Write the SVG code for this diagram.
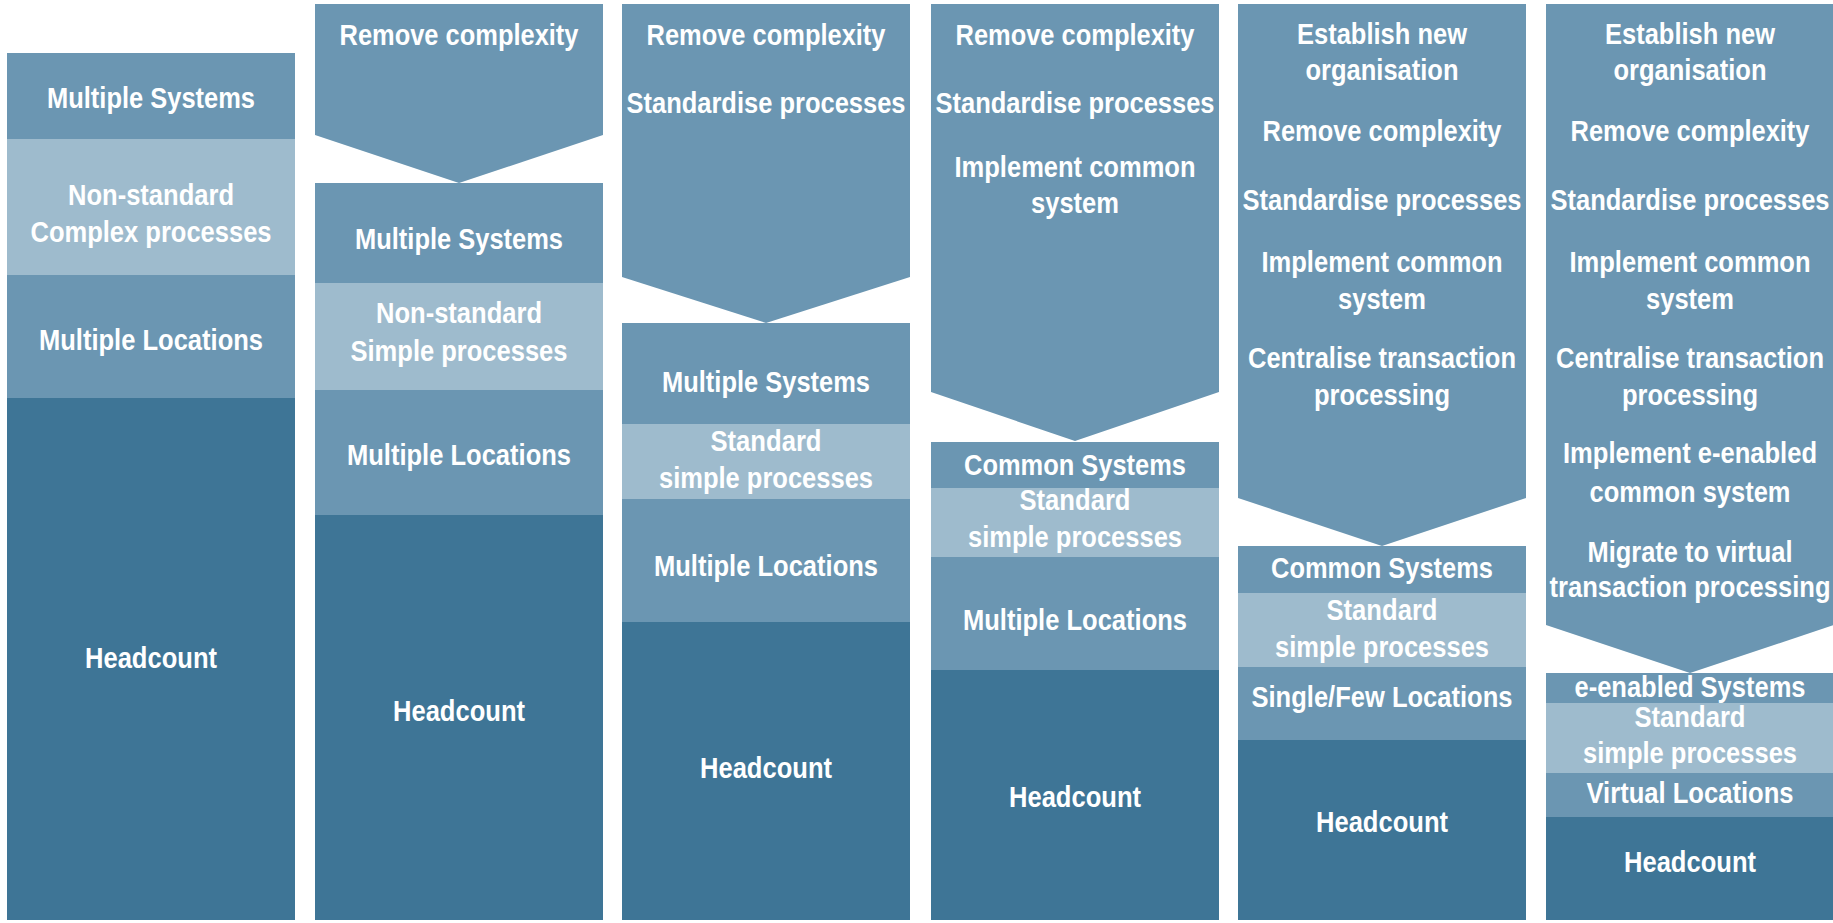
<svg xmlns="http://www.w3.org/2000/svg" width="1833" height="923" viewBox="0 0 1833 923">
<style>
.m{fill:#6b96b2}
.l{fill:#9ebbcd}
.d{fill:#3e7596}
.a{fill:#6b96b2}
text{font-family:"Liberation Sans",Arial,sans-serif;font-weight:bold;font-size:29px;fill:#ffffff;text-anchor:middle}
</style>
<rect x="0" y="0" width="1833" height="923" fill="#ffffff"/>

<!-- Column 1 -->
<g id="col1">
<g id="c1-systems"><rect class="m" x="7" y="53" width="288" height="86"/><text x="151" y="108" textLength="208" lengthAdjust="spacingAndGlyphs">Multiple Systems</text></g>
<g id="c1-processes"><rect class="l" x="7" y="139" width="288" height="136"/><text x="151" y="205" textLength="166" lengthAdjust="spacingAndGlyphs">Non-standard</text><text x="151" y="242" textLength="241" lengthAdjust="spacingAndGlyphs">Complex processes</text></g>
<g id="c1-locations"><rect class="m" x="7" y="275" width="288" height="123"/><text x="151" y="350" textLength="224" lengthAdjust="spacingAndGlyphs">Multiple Locations</text></g>
<g id="c1-headcount"><rect class="d" x="7" y="398" width="288" height="522"/><text x="151" y="668" textLength="132" lengthAdjust="spacingAndGlyphs">Headcount</text></g>
</g>

<!-- Column 2 -->
<g id="col2">
<g id="c2-arrow"><polygon class="a" points="315,4 603,4 603,135 459,183 315,135"/><text x="459" y="45" textLength="239" lengthAdjust="spacingAndGlyphs">Remove complexity</text></g>
<g id="c2-systems"><rect class="m" x="315" y="183" width="288" height="100"/><text x="459" y="249" textLength="208" lengthAdjust="spacingAndGlyphs">Multiple Systems</text></g>
<g id="c2-processes"><rect class="l" x="315" y="283" width="288" height="107"/><text x="459" y="323" textLength="166" lengthAdjust="spacingAndGlyphs">Non-standard</text><text x="459" y="361" textLength="217" lengthAdjust="spacingAndGlyphs">Simple processes</text></g>
<g id="c2-locations"><rect class="m" x="315" y="390" width="288" height="125"/><text x="459" y="465" textLength="224" lengthAdjust="spacingAndGlyphs">Multiple Locations</text></g>
<g id="c2-headcount"><rect class="d" x="315" y="515" width="288" height="405"/><text x="459" y="721" textLength="132" lengthAdjust="spacingAndGlyphs">Headcount</text></g>
</g>

<!-- Column 3 -->
<g id="col3">
<g id="c3-arrow"><polygon class="a" points="622,4 910,4 910,277 766,323 622,277"/><text x="766" y="45" textLength="239" lengthAdjust="spacingAndGlyphs">Remove complexity</text><text x="766" y="113" textLength="279" lengthAdjust="spacingAndGlyphs">Standardise processes</text></g>
<g id="c3-systems"><rect class="m" x="622" y="323" width="288" height="101"/><text x="766" y="392" textLength="208" lengthAdjust="spacingAndGlyphs">Multiple Systems</text></g>
<g id="c3-processes"><rect class="l" x="622" y="424" width="288" height="75"/><text x="766" y="451" textLength="111" lengthAdjust="spacingAndGlyphs">Standard</text><text x="766" y="488" textLength="214" lengthAdjust="spacingAndGlyphs">simple processes</text></g>
<g id="c3-locations"><rect class="m" x="622" y="499" width="288" height="123"/><text x="766" y="576" textLength="224" lengthAdjust="spacingAndGlyphs">Multiple Locations</text></g>
<g id="c3-headcount"><rect class="d" x="622" y="622" width="288" height="298"/><text x="766" y="778" textLength="132" lengthAdjust="spacingAndGlyphs">Headcount</text></g>
</g>

<!-- Column 4 -->
<g id="col4">
<g id="c4-arrow"><polygon class="a" points="931,4 1219,4 1219,392 1075,441 931,392"/><text x="1075" y="45" textLength="239" lengthAdjust="spacingAndGlyphs">Remove complexity</text><text x="1075" y="113" textLength="279" lengthAdjust="spacingAndGlyphs">Standardise processes</text><text x="1075" y="177" textLength="241" lengthAdjust="spacingAndGlyphs">Implement common</text><text x="1075" y="213" textLength="88" lengthAdjust="spacingAndGlyphs">system</text></g>
<g id="c4-systems"><rect class="m" x="931" y="442" width="288" height="46"/><text x="1075" y="475" textLength="222" lengthAdjust="spacingAndGlyphs">Common Systems</text></g>
<g id="c4-processes"><rect class="l" x="931" y="488" width="288" height="69"/><text x="1075" y="510" textLength="111" lengthAdjust="spacingAndGlyphs">Standard</text><text x="1075" y="547" textLength="214" lengthAdjust="spacingAndGlyphs">simple processes</text></g>
<g id="c4-locations"><rect class="m" x="931" y="557" width="288" height="113"/><text x="1075" y="630" textLength="224" lengthAdjust="spacingAndGlyphs">Multiple Locations</text></g>
<g id="c4-headcount"><rect class="d" x="931" y="670" width="288" height="250"/><text x="1075" y="807" textLength="132" lengthAdjust="spacingAndGlyphs">Headcount</text></g>
</g>

<!-- Column 5 -->
<g id="col5">
<g id="c5-arrow"><polygon class="a" points="1238,4 1526,4 1526,498 1382,546 1238,498"/><text x="1382" y="44" textLength="170" lengthAdjust="spacingAndGlyphs">Establish new</text><text x="1382" y="80" textLength="153" lengthAdjust="spacingAndGlyphs">organisation</text><text x="1382" y="141" textLength="239" lengthAdjust="spacingAndGlyphs">Remove complexity</text><text x="1382" y="210" textLength="279" lengthAdjust="spacingAndGlyphs">Standardise processes</text><text x="1382" y="272" textLength="241" lengthAdjust="spacingAndGlyphs">Implement common</text><text x="1382" y="309" textLength="88" lengthAdjust="spacingAndGlyphs">system</text><text x="1382" y="368" textLength="268" lengthAdjust="spacingAndGlyphs">Centralise transaction</text><text x="1382" y="405" textLength="136" lengthAdjust="spacingAndGlyphs">processing</text></g>
<g id="c5-systems"><rect class="m" x="1238" y="546" width="288" height="47"/><text x="1382" y="578" textLength="222" lengthAdjust="spacingAndGlyphs">Common Systems</text></g>
<g id="c5-processes"><rect class="l" x="1238" y="593" width="288" height="74"/><text x="1382" y="620" textLength="111" lengthAdjust="spacingAndGlyphs">Standard</text><text x="1382" y="657" textLength="214" lengthAdjust="spacingAndGlyphs">simple processes</text></g>
<g id="c5-locations"><rect class="m" x="1238" y="667" width="288" height="73"/><text x="1382" y="707" textLength="261" lengthAdjust="spacingAndGlyphs">Single/Few Locations</text></g>
<g id="c5-headcount"><rect class="d" x="1238" y="740" width="288" height="180"/><text x="1382" y="832" textLength="132" lengthAdjust="spacingAndGlyphs">Headcount</text></g>
</g>

<!-- Column 6 -->
<g id="col6">
<g id="c6-arrow"><polygon class="a" points="1546,4 1834,4 1834,625 1690,673 1546,625"/><text x="1690" y="44" textLength="170" lengthAdjust="spacingAndGlyphs">Establish new</text><text x="1690" y="80" textLength="153" lengthAdjust="spacingAndGlyphs">organisation</text><text x="1690" y="141" textLength="239" lengthAdjust="spacingAndGlyphs">Remove complexity</text><text x="1690" y="210" textLength="279" lengthAdjust="spacingAndGlyphs">Standardise processes</text><text x="1690" y="272" textLength="241" lengthAdjust="spacingAndGlyphs">Implement common</text><text x="1690" y="309" textLength="88" lengthAdjust="spacingAndGlyphs">system</text><text x="1690" y="368" textLength="268" lengthAdjust="spacingAndGlyphs">Centralise transaction</text><text x="1690" y="405" textLength="136" lengthAdjust="spacingAndGlyphs">processing</text><text x="1690" y="463" textLength="254" lengthAdjust="spacingAndGlyphs">Implement e-enabled</text><text x="1690" y="502" textLength="201" lengthAdjust="spacingAndGlyphs">common system</text><text x="1690" y="562" textLength="205" lengthAdjust="spacingAndGlyphs">Migrate to virtual</text><text x="1690" y="597" textLength="281" lengthAdjust="spacingAndGlyphs">transaction processing</text></g>
<g id="c6-systems"><rect class="m" x="1546" y="673" width="288" height="30"/><text x="1690" y="697" textLength="231" lengthAdjust="spacingAndGlyphs">e-enabled Systems</text></g>
<g id="c6-processes"><rect class="l" x="1546" y="703" width="288" height="70"/><text x="1690" y="727" textLength="111" lengthAdjust="spacingAndGlyphs">Standard</text><text x="1690" y="763" textLength="214" lengthAdjust="spacingAndGlyphs">simple processes</text></g>
<g id="c6-locations"><rect class="m" x="1546" y="773" width="288" height="44"/><text x="1690" y="803" textLength="207" lengthAdjust="spacingAndGlyphs">Virtual Locations</text></g>
<g id="c6-headcount"><rect class="d" x="1546" y="817" width="288" height="103"/><text x="1690" y="872" textLength="132" lengthAdjust="spacingAndGlyphs">Headcount</text></g>
</g>
</svg>
